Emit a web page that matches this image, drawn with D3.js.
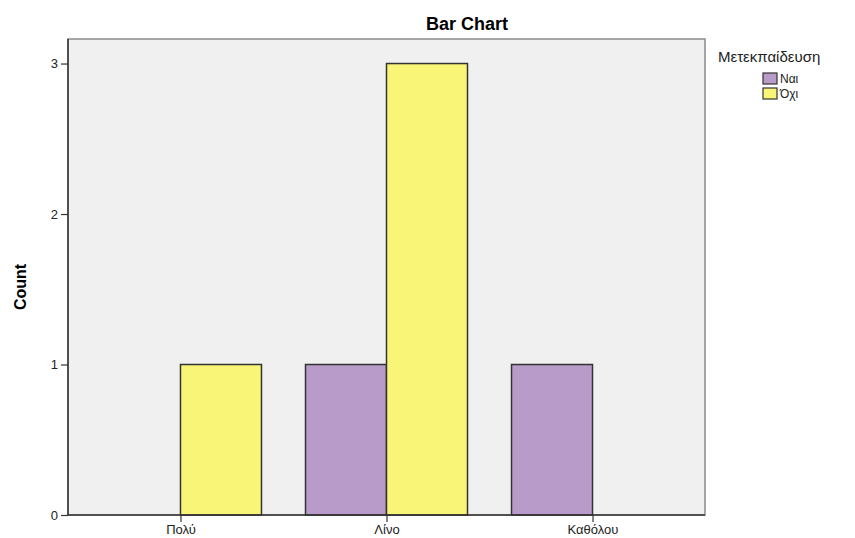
<!DOCTYPE html>
<html>
  <head>
    <title>Bar Chart</title>
    <meta charset="utf-8">
    <script src='https://d3js.org/d3.v7.min.js'></script>
    <style>
      body { margin: 0; background: #fff; overflow: hidden; }
      text { font-family: Arial, "Liberation Sans", sans-serif; }
    </style>
  </head>
  <body>
  <script>

    // data
    var categories = ['Πολύ', 'Λίνο', 'Καθόλου'];
    var series = ['Ναι', 'Όχι'];
    var nai = [0, 1, 1];
    var ochi = [1, 3, 0];
    var yTicks = [0, 1, 2, 3];
    var colors = ['#b99bc9', '#f9f677'];

    var width = 855, height = 538;
    var plotLeft = 68, plotRight = 705, plotTop = 39, plotBottom = 515;

    var svg = d3.select('body').append('svg')
      .attr('width', width)
      .attr('height', height);

    var x = d3.scalePoint().domain(categories).range([plotLeft, plotRight]).padding(0.546);
    var xs = d3.scaleBand().domain(series).range([-81, 81]);
    var y = d3.scaleLinear().domain([0, 3.163]).range([plotBottom, plotTop]);

    // plot background
    svg.append('rect')
      .attr('x', plotLeft).attr('y', plotTop)
      .attr('width', plotRight - plotLeft).attr('height', plotBottom - plotTop)
      .style('fill', '#f0f0f0')
      .style('stroke', '#8a8a8a')
      .style('stroke-width', 1.5);

    var rows = [];
    categories.forEach(function(c, i) {
      rows.push({cat: c, s: series[0], v: nai[i], col: colors[0]});
      rows.push({cat: c, s: series[1], v: ochi[i], col: colors[1]});
    });

    svg.selectAll('.bar')
      .data(rows.filter(function(d) { return d.v > 0; }))
      .enter().append('rect')
      .attr('class', 'bar')
      .attr('x', function(d) { return x(d.cat) + xs(d.s); })
      .attr('y', function(d) { return y(d.v); })
      .attr('width', xs.bandwidth())
      .attr('height', function(d) { return y(0) - y(d.v); })
      .style('fill', function(d) { return d.col; })
      .style('stroke', '#333')
      .style('stroke-width', 1.5);

    // axes
    var yAxis = svg.append('g')
      .attr('transform', 'translate(' + plotLeft + ',0)')
      .call(d3.axisLeft(y).tickValues(yTicks).tickSize(7).tickPadding(3).tickFormat(d3.format('d')));
    yAxis.select('.domain').remove();
    yAxis.append('line').attr('x1', 0).attr('x2', 0).attr('y1', plotTop).attr('y2', plotBottom)
      .style('stroke', '#333').style('stroke-width', 1.5);
    yAxis.selectAll('.tick line').style('stroke', '#333').style('stroke-width', 1.2);
    yAxis.selectAll('.tick text').style('font-size', '13px').style('fill', '#222')
      .style('font-family', 'Arial, "Liberation Sans", sans-serif');

    var xAxis = svg.append('g')
      .attr('transform', 'translate(0,' + plotBottom + ')')
      .call(d3.axisBottom(x).tickSize(7).tickPadding(3));
    xAxis.select('.domain').remove();
    xAxis.append('line').attr('x1', plotLeft).attr('x2', plotRight).attr('y1', 0).attr('y2', 0)
      .style('stroke', '#333').style('stroke-width', 1.5);
    xAxis.selectAll('.tick line').style('stroke', '#333').style('stroke-width', 1.2);
    xAxis.selectAll('.tick text').style('font-size', '13px').style('fill', '#222')
      .style('font-family', 'Arial, "Liberation Sans", sans-serif');

    // titles
    svg.append('text')
      .attr('x', 467).attr('y', 30)
      .attr('text-anchor', 'middle')
      .style('font-size', '18px').style('font-weight', 'bold')
      .text('Bar Chart');

    svg.append('text')
      .attr('transform', 'translate(26,' + ((plotTop + plotBottom) / 2 + 10) + ') rotate(-90)')
      .attr('text-anchor', 'middle')
      .style('font-size', '16px').style('font-weight', 'bold')
      .text('Count');

    // legend
    var legend = svg.append('g');
    legend.append('text')
      .attr('x', 718).attr('y', 62)
      .style('font-size', '15px').style('fill', '#222')
      .text('Μετεκπαίδευση');

    var items = legend.selectAll('.item')
      .data(series)
      .enter().append('g')
      .attr('class', 'item')
      .attr('transform', function(d, i) { return 'translate(763,' + (73 + i * 15) + ')'; });
    items.append('rect')
      .attr('width', 14).attr('height', 11)
      .style('fill', function(d, i) { return colors[i]; })
      .style('stroke', '#333').style('stroke-width', 1.2);
    items.append('text')
      .attr('x', 17).attr('y', 10)
      .style('font-size', '12px').style('fill', '#222')
      .text(function(d) { return d; });

  </script>
  </body>
</html>
